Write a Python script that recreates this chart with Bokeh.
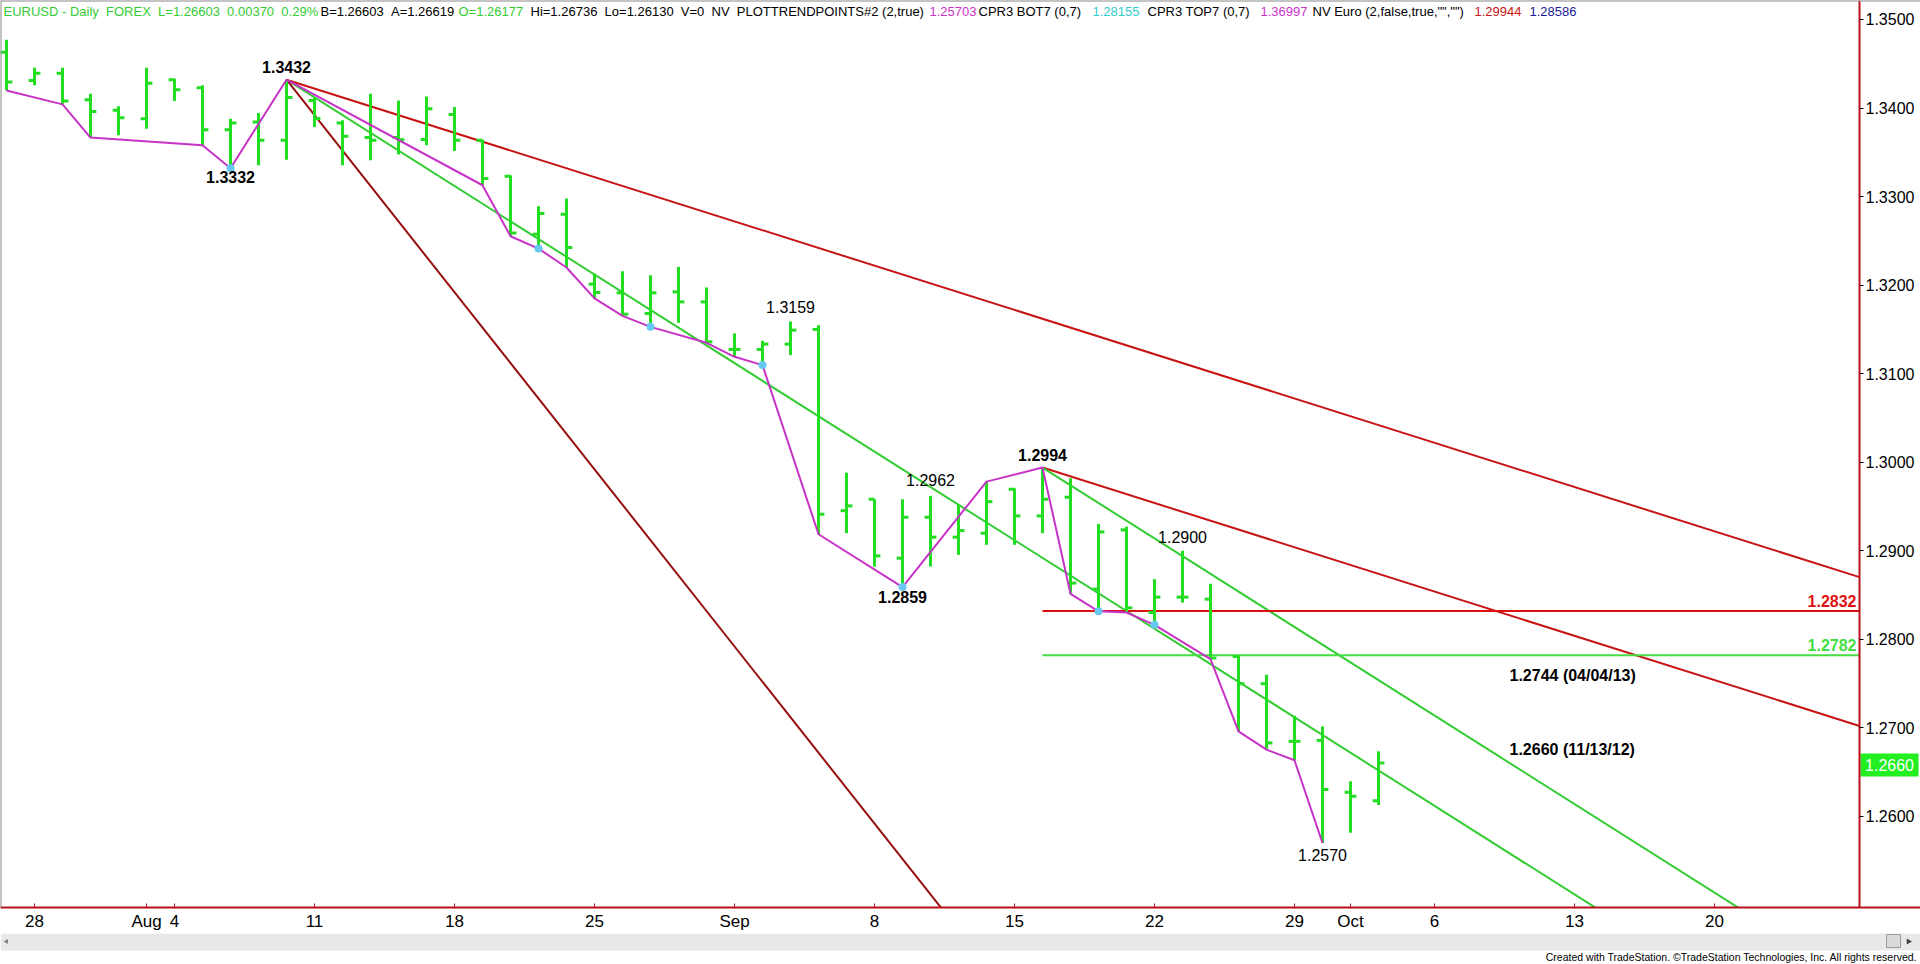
import numpy as np
import pandas as pd
from bokeh.plotting import figure
from bokeh.models import Range1d, FixedTicker, PrintfTickFormatter, ColumnDataSource, Span
from bokeh.layouts import column
from bokeh.embed import file_html
from bokeh.resources import INLINE
from bokeh.core.properties import value

# ---------------- data ----------------
dates = pd.bdate_range("2014-07-25", "2014-10-02")

opens = [1.34631, 1.34312, 1.34394, 1.34094, 1.33974, 1.33880, 1.34320, 1.34230, 1.33756, 1.33842,
         1.33635, 1.34086, 1.33830, 1.33666, 1.33666, 1.33646, 1.33928, 1.33635, 1.33229, 1.32575,
         1.32800, 1.32011, 1.31913, 1.31680, 1.31924, 1.31811, 1.31274, 1.31274, 1.31334, 1.31500,
         1.29453, 1.29582, 1.28917, 1.29379, 1.29154, 1.29199, 1.29695, 1.29394, 1.29605, 1.28567,
         1.29236, 1.28303, 1.28477, 1.28454, 1.27806, 1.27499, 1.26848, 1.26859, 1.26273, 1.26177]
highs = [1.34771, 1.34455, 1.34455, 1.34162, 1.34019, 1.34455, 1.34331, 1.34256, 1.33880, 1.33943,
         1.34320, 1.34124, 1.33861, 1.34162, 1.34086, 1.34131, 1.34011, 1.33643, 1.33240, 1.32891,
         1.32977, 1.32131, 1.32157, 1.32112, 1.32206, 1.31974, 1.31455, 1.31371, 1.31590, 1.31548,
         1.29882, 1.29582, 1.29582, 1.29620, 1.29518, 1.29781, 1.29706, 1.29940, 1.29819, 1.29304,
         1.29273, 1.28680, 1.29000, 1.28627, 1.27814, 1.27600, 1.27138, 1.27017, 1.26397, 1.26736]
lows = [1.34199, 1.34256, 1.34041, 1.33666, 1.33692, 1.33767, 1.34078, 1.33579, 1.33320, 1.33353,
        1.33417, 1.33785, 1.33353, 1.33410, 1.33474, 1.33579, 1.33514, 1.33128, 1.32552, 1.32413,
        1.32199, 1.31850, 1.31653, 1.31529, 1.31574, 1.31349, 1.31191, 1.31097, 1.31210, 1.29187,
        1.29199, 1.28822, 1.28590, 1.28822, 1.28954, 1.29067, 1.29067, 1.29199, 1.28514, 1.28316,
        1.28303, 1.28164, 1.28415, 1.27777, 1.26960, 1.26754, 1.26634, 1.25700, 1.25815, 1.26130]
closes = [1.34293, 1.34394, 1.34078, 1.33962, 1.33891, 1.34281, 1.34207, 1.33756, 1.33830, 1.33635,
          1.34120, 1.33883, 1.33680, 1.33635, 1.33643, 1.33993, 1.33635, 1.33203, 1.32589, 1.32808,
          1.32425, 1.31917, 1.31672, 1.31913, 1.31811, 1.31360, 1.31274, 1.31334, 1.31492, 1.29413,
          1.29507, 1.28943, 1.29379, 1.29154, 1.29228, 1.29555, 1.29394, 1.29582, 1.28635, 1.29213,
          1.28356, 1.28477, 1.28477, 1.27789, 1.27499, 1.26830, 1.26848, 1.26303, 1.26227, 1.26603]

tick_dates = ["2014-07-28", "2014-08-01", "2014-08-04", "2014-08-11", "2014-08-18", "2014-08-25",
              "2014-09-01", "2014-09-08", "2014-09-15", "2014-09-22", "2014-09-29", "2014-10-01",
              "2014-10-06", "2014-10-13", "2014-10-20"]
tick_labels = ["28", "Aug", "4", "11", "18", "25", "Sep", "8", "15", "22", "29", "Oct", "6", "13", "20"]
y_ticks = [1.26, 1.27, 1.28, 1.29, 1.30, 1.31, 1.32, 1.33, 1.34, 1.35]

# swing (trend point) line: bar index and whether it uses the high or the low
swing_idx = [0, 2, 3, 7, 8, 10, 17, 18, 19, 20, 21, 22, 23, 25, 26, 27, 29, 32, 35, 37, 38, 39, 40, 41, 43, 44, 45, 46, 47]
swing_kind = ["L", "L", "L", "L", "L", "H", "L", "L", "L", "L", "L", "L", "L", "L", "L", "L", "L", "L",
              "H", "H", "L", "L", "L", "L", "L", "L", "L", "L", "L"]
pivot_dot_idx = [8, 19, 23, 27, 32, 39, 41]

pivot_label_idx = [10, 8, 28, 33, 37, 32, 42, 47]
pivot_label_kind = ["H", "L", "H", "H", "H", "L", "H", "L"]
pivot_label_bold = [True, True, False, False, True, True, False, False]

# angle (fan) lines: origin bar, origin price, slope per bar
fan_idx = [10, 10, 10, 37, 37]
fan_val = [1.3432, 1.3432, 1.3432, 1.2994, 1.2994]
fan_slope = [-0.001, -0.002, -0.004, -0.001, -0.002]
fan_kind = ["red", "green", "dark", "red", "green"]

level_vals = [1.2832, 1.2782]
level_kind = ["red", "green"]
level_start_idx = 37

note_vals = [1.2744, 1.2660]
note_dates = ["04/04/13", "11/13/12"]

NB = "\u00a0\u00a0"
header_texts = ["EURUSD - Daily" + NB + "FOREX" + NB + "L=1.26603" + NB + "0.00370" + NB + "0.29%",
                "B=1.26603" + NB + "A=1.26619",
                "O=1.26177",
                "Hi=1.26736" + NB + "Lo=1.26130" + NB + "V=0" + NB + "NV" + NB + "PLOTTRENDPOINTS#2 (2,true)",
                "1.25703", "CPR3 BOT7 (0,7)", "1.28155", "CPR3 TOP7 (0,7)", "1.36997",
                'NV Euro (2,false,true,"","")', "1.29944", "1.28586"]
header_kind = ["green", "black", "green", "black", "magenta", "black", "cyan", "black", "magenta",
               "black", "red", "blue"]
credit = "Created with TradeStation. \u00a9TradeStation Technologies, Inc. All rights reserved."

# ---------------- styles / layout ----------------
BAR = "#22dd22"
COL = {"green": "#33cc33", "red": "#c81414", "dark": "#960e0e", "black": "#000000",
       "magenta": "#cc33cc", "cyan": "#33cccc", "blue": "#1c1c9c"}
LVL = {"red": "#dd1111", "green": "#44dd44"}
MAG = "#c733c7"
CYAN = "#66c8f0"
AXIS_RED = "#b5121b"
FONT = "Liberation Sans"

W, H1, H2 = 1920, 933, 30
FH = 908                      # frame height (px)
PX0, PXB = 6.0, 28.0          # page x of bar 0, px per bar
PY0, PYS = 19.0, 8865.0       # page y of 1.3500, px per price unit


def dx(px):  # page x -> bar index
    return (px - PX0) / PXB


def dy(py):  # page y -> price
    return 1.35 - (py - PY0) / PYS


def py_of(v):
    return PY0 + (1.35 - v) * PYS


X0, X1 = dx(0), dx(W)
Y0, Y1 = dy(FH), dy(0)
XA = dx(1859)                 # location of the price axis
header_px = [3, 320, 458, 530, 929, 978, 1092, 1147, 1260, 1312, 1474, 1529]
label_dy = [-12.6, 8.8, -14.0, -15.9, -12.6, 9.5, -13.6, 11.6]

p = figure(width=W, height=H1, x_range=Range1d(X0, X1), y_range=Range1d(Y0, Y1),
           y_axis_location="right", toolbar_location=None, output_backend="svg",
           min_border_left=0, min_border_top=0, min_border_right=0, min_border_bottom=H1 - FH)
p.outline_line_color = None
p.xgrid.visible = False
p.ygrid.visible = False
p.background_fill_color = "white"
p.add_layout(Span(location=Y1, dimension="width", line_color="#8a8a8a", line_width=2))
p.add_layout(Span(location=X0, dimension="height", line_color="#8a8a8a", line_width=2))

idx = np.arange(len(dates))
tick_pos = [int(v) for v in np.busday_count("2014-07-25", tick_dates)]

# fan lines
for i0, v0, s, k in zip(fan_idx, fan_val, fan_slope, fan_kind):
    p.segment(x0=[i0], y0=[v0], x1=[XA], y1=[v0 + s * (XA - i0)], line_color=COL[k], line_width=2)

# horizontal levels
for v, k in zip(level_vals, level_kind):
    p.segment(x0=[level_start_idx], y0=[v], x1=[XA], y1=[v], line_color=LVL[k], line_width=2)

# OHLC bars
src = ColumnDataSource(dict(x=idx, xl=idx - 0.21, xr=idx + 0.21, o=opens, h=highs, l=lows, c=closes))
p.segment("x", "l", "x", "h", source=src, line_color=BAR, line_width=3)
p.segment("xl", "o", "x", "o", source=src, line_color=BAR, line_width=3)
p.segment("x", "c", "xr", "c", source=src, line_color=BAR, line_width=3)

# swing line
sw_y = [lows[i] if k == "L" else highs[i] for i, k in zip(swing_idx, swing_kind)]
p.line(swing_idx, sw_y, line_color=MAG, line_width=2)
p.scatter(pivot_dot_idx, [lows[i] for i in pivot_dot_idx], size=8, fill_color=CYAN, line_color=None)

# pivot labels
for i, k, b, off in zip(pivot_label_idx, pivot_label_kind, pivot_label_bold, label_dy):
    v = highs[i] if k == "H" else lows[i]
    p.text(x=[i], y=[v], text=[f"{v:.4f}"], text_align="center", text_baseline="alphabetic",
           y_offset=off, text_font=value(FONT), text_font_size="16px",
           text_font_style="bold" if b else "normal", text_color="black")

# notes
for v, d in zip(note_vals, note_dates):
    p.text(x=[dx(1509)], y=[v], text=[f"{v:.4f} ({d})"], text_align="left", text_baseline="alphabetic",
           y_offset=-13.8, text_font=value(FONT), text_font_size="16px", text_font_style="bold",
           text_color="black")

# level labels
for v, k in zip(level_vals, level_kind):
    p.text(x=[XA], y=[v], text=[f"{v:.4f}"], text_align="right", text_baseline="alphabetic",
           x_offset=-3, y_offset=-10, text_font=value(FONT), text_font_size="16px",
           text_font_style="bold", text_color=LVL[k])

# header
for t, k, px in zip(header_texts, header_kind, header_px):
    p.text(x=[dx(px)], y=[dy(11.5)], text=[t], text_align="left", text_baseline="alphabetic",
           text_font=value(FONT), text_font_size="13px", text_color=COL[k])

# last price tag next to the price axis
last = closes[-1]
p.quad(left=[dx(1860)], right=[dx(1918)], top=[dy(py_of(last) - 9.5)], bottom=[dy(py_of(last) + 13.5)],
       fill_color="#22ee22", line_color=None)
p.text(x=[dx(1889)], y=[dy(py_of(last) + 2)], text=[f"{last:.4f}"], text_align="center",
       text_baseline="middle", text_font=value(FONT), text_font_size="16px", text_color="white")

# axes
p.yaxis.fixed_location = XA
p.yaxis.ticker = FixedTicker(ticks=y_ticks)
p.yaxis.formatter = PrintfTickFormatter(format="%.4f")
p.yaxis.axis_line_color = AXIS_RED
p.yaxis.axis_line_width = 2
p.yaxis.major_tick_line_color = "black"
p.yaxis.major_tick_in = 0
p.yaxis.major_tick_out = 4
p.yaxis.minor_tick_line_color = None
p.yaxis.major_label_standoff = 2
p.yaxis.major_label_text_font = FONT
p.yaxis.major_label_text_font_size = "16px"
p.yaxis.major_label_text_color = "black"

p.xaxis.ticker = FixedTicker(ticks=tick_pos)
p.xaxis.major_label_overrides = {t: lab for t, lab in zip(tick_pos, tick_labels)}
p.xaxis.axis_line_color = AXIS_RED
p.xaxis.axis_line_width = 2
p.xaxis.major_tick_line_color = AXIS_RED
p.xaxis.major_tick_in = 4
p.xaxis.major_tick_out = 1
p.xaxis.minor_tick_line_color = None
p.xaxis.major_label_standoff = 3
p.xaxis.major_label_text_font = FONT
p.xaxis.major_label_text_font_size = "17px"
p.xaxis.major_label_text_color = "black"

# ---------------- footer (scroll bar + credit) ----------------
p2 = figure(width=W, height=H2, x_range=Range1d(0, W), y_range=Range1d(H2, 0),
            toolbar_location=None, output_backend="svg", x_axis_location=None, y_axis_location=None,
            min_border=0)
p2.outline_line_color = None
p2.grid.visible = False
p2.quad(left=[0], right=[W], top=[0], bottom=[17], fill_color="#e8e8e8", line_color=None)
p2.quad(left=[1886], right=[1900], top=[1], bottom=[14], fill_color="#dadada", line_color="#9a9a9a")
p2.scatter(x=[1908], y=[8], marker="triangle", angle=-np.pi / 2, size=6, fill_color="#404040", line_color=None)
p2.scatter(x=[6], y=[8], marker="triangle", angle=np.pi / 2, size=5, fill_color="#808080", line_color=None)
p2.text(x=[1917], y=[23.5], text=[credit], text_align="right", text_baseline="alphabetic",
        text_font=value(FONT), text_font_size="10.5px", text_color="black")

layout = column(p, p2)
open("out.html", "w").write(file_html(layout, INLINE))
